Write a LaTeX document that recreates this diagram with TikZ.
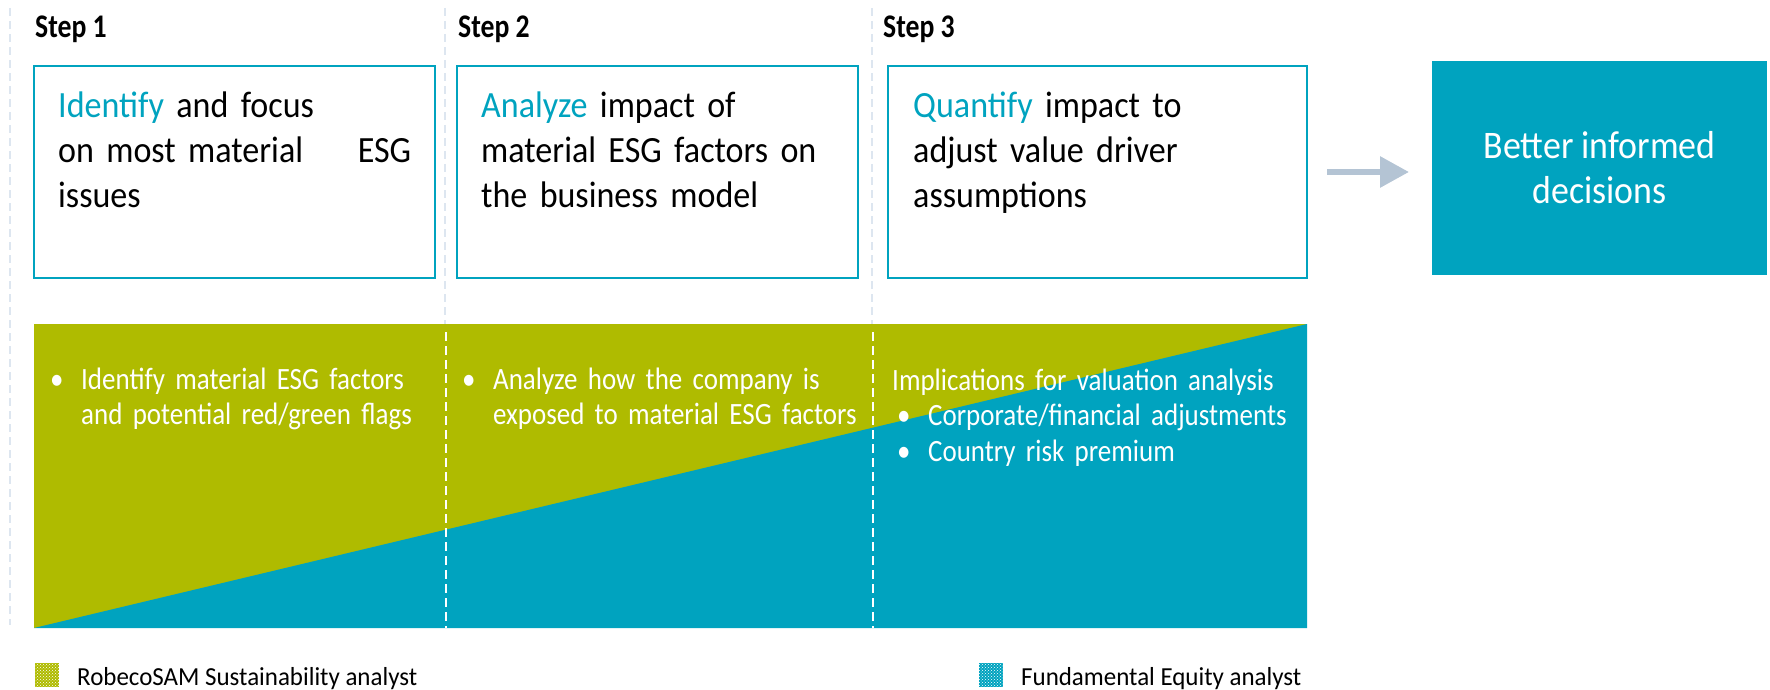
\documentclass[tikz,border=0pt]{standalone}
\usepackage{fontspec}
\setmainfont{Carlito}
\newfontfamily\stepfont[FakeStretch=0.84]{Carlito}
\newfontfamily\boxfont[FakeStretch=0.92]{Carlito}
\newfontfamily\bandfont[FakeStretch=0.87]{Carlito}
\newfontfamily\legendfont[FakeStretch=0.96]{Carlito}
\usetikzlibrary{arrows.meta,positioning,patterns}
\definecolor{robteal}{HTML}{00A3BF}
\definecolor{robgreen}{HTML}{AFBB00}
\definecolor{sepgray}{HTML}{DDE6F0}
\definecolor{arrowgray}{HTML}{B4C4D4}
\newcommand{\bul}{\makebox[31pt][l]{\textbullet}}
\begin{document}
\begin{tikzpicture}[x=1pt, y=-1pt,
    stepbox/.style={draw=robteal, line width=2pt, inner sep=0pt, outer sep=0pt,
      anchor=north west, minimum height=212pt},
    boxtext/.style={anchor=base west, inner sep=0pt, align=left, text width=360pt,
      font=\boxfont\fontsize{37}{45}\selectfont},
    steplabel/.style={anchor=base west, inner sep=0pt,
      font=\stepfont\bfseries\fontsize{33}{40}\selectfont},
    bandtext/.style={anchor=base west, inner sep=0pt, align=left, text=white,
      text width=400pt, font=\bandfont\fontsize{31}{35.5}\selectfont},
    sepline/.style={draw=sepgray, line width=2pt, dash pattern=on 8pt off 5pt},
    bandsep/.style={draw=white, line width=2pt, dash pattern=on 9pt off 5pt},
    legendsq/.style={minimum size=24pt, inner sep=0pt, outer sep=0pt, anchor=north west,
      postaction={pattern=crosshatch dots, pattern color=white}},
    legendtext/.style={anchor=base west, inner sep=0pt,
      font=\legendfont\fontsize{26}{30}\selectfont},
    flowarrow/.style={draw=arrowgray, line width=6pt, -{Triangle[length=29pt, width=30pt]},
      shorten <=20pt, shorten >=23pt},
  ]
    \useasboundingbox (0,0) rectangle (1770,690);

    % column separators
    \foreach \sx in {10, 445, 872}
      \draw[sepline] (\sx,8) -- (\sx,625);

    % steps
    \node[steplabel] (s1) at (35,38) {Step 1};
    \node[steplabel] (s2) at (458,38) {Step 2};
    \node[steplabel] (s3) at (883,38) {Step 3};

    \node[stepbox, minimum width=401pt] (b1) at (34,66) {};
    \node[stepbox, minimum width=401pt] (b2) at (457,66) {};
    \node[stepbox, minimum width=419pt] (b3) at (888,66) {};

    \node[boxtext, text width=353pt] (t1) at (58,118)
      {\textcolor{robteal}{Identify} and focus\\ on most material\hfill ESG\\ issues};
    \node[boxtext] (t2) at (481,118)
      {\textcolor{robteal}{Analyze} impact of\\ material ESG factors on\\ the business model};
    \node[boxtext] (t3) at (913,118)
      {\textcolor{robteal}{Quantify} impact to\\ adjust value driver\\ assumptions};

    \node[fill=robteal, inner sep=0pt, outer sep=0pt, anchor=north west,
      minimum width=335pt, minimum height=214pt, text=white, align=center,
      font=\boxfont\fontsize{39}{45}\selectfont] (fin) at (1432,61)
      {Better informed\\ decisions};

    \draw[flowarrow] (b3.east) -- (b3.east -| fin.west);

    % analyst band
    \fill[robgreen] (34,324) rectangle (1307,628);
    \fill[robteal] (34,628) -- (1307,324) -- (1307,628) -- cycle;
    \draw[bandsep] (446,332) -- (446,628);
    \draw[bandsep] (873,332) -- (873,628);

    \node[bandtext] (c1) at (50,389)
      {\bul Identify material ESG factors\\ \hspace*{31pt}and potential red/green flags};
    \node[bandtext] (c2) at (462,389)
      {\bul Analyze how the company is\\ \hspace*{31pt}exposed to material ESG factors};
    \node[bandtext] (c3) at (892,390)
      {Implications for valuation analysis\\
       \hspace*{5pt}\bul Corporate/financial adjustments\\
       \hspace*{5pt}\bul Country risk premium};

    % legend
    \node[legendsq, fill=robgreen] (l1) at (35,663) {};
    \node[legendtext] (lt1) at (77,685) {RobecoSAM Sustainability analyst};
    \node[legendsq, fill=robteal] (l2) at (979,663) {};
    \node[legendtext] (lt2) at (1021,685) {Fundamental Equity analyst};
  \end{tikzpicture}
\end{document}
